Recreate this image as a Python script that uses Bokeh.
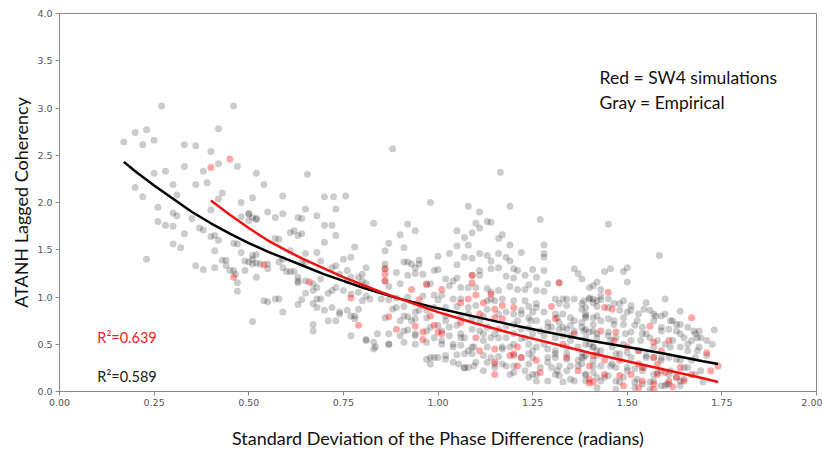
from bokeh.plotting import figure
from bokeh.models import Label, Range1d, FixedTicker, PrintfTickFormatter
from bokeh.embed import file_html
from bokeh.resources import INLINE

# ---------------- data ----------------
x_ticks = [0.0, 0.25, 0.5, 0.75, 1.0, 1.25, 1.5, 1.75, 2.0]
y_ticks = [0.0, 0.5, 1.0, 1.5, 2.0, 2.5, 3.0, 3.5, 4.0]

# Empirical (gray) points, grouped by region of the cloud
emp_left = [
    (0.27, 3.02), (0.46, 3.02), (0.42, 2.78), (0.20, 2.74), (0.23, 2.77), (0.17, 2.64),
    (0.22, 2.61), (0.25, 2.66), (0.33, 2.61), (0.36, 2.60), (0.40, 2.54), (0.42, 2.41),
    (0.47, 2.38), (0.38, 2.33), (0.33, 2.38), (0.25, 2.31), (0.28, 2.33), (0.52, 2.31),
    (0.39, 2.21), (0.36, 2.19), (0.30, 2.19), (0.54, 2.19), (0.20, 2.16), (0.22, 2.06),
    (0.31, 2.08), (0.43, 2.10), (0.42, 2.04), (0.48, 2.00), (0.51, 2.05), (0.59, 2.07),
    (0.26, 1.95), (0.30, 1.89), (0.31, 1.86), (0.35, 1.83), (0.40, 1.92), (0.48, 1.85),
    (0.50, 1.88), (0.51, 1.84), (0.52, 1.82), (0.26, 1.80), (0.28, 1.76), (0.30, 1.75),
    (0.33, 1.67), (0.37, 1.73), (0.38, 1.71), (0.40, 1.64), (0.41, 1.65), (0.57, 1.62),
    (0.62, 1.70), (0.63, 1.84), (0.23, 1.40), (0.30, 1.56), (0.32, 1.52), (0.36, 1.33),
    (0.38, 1.29), (0.41, 1.31), (0.43, 1.39), (0.44, 1.39), (0.44, 1.33), (0.45, 1.28),
    (0.46, 1.28), (0.47, 1.15), (0.47, 1.06), (0.48, 1.47), (0.46, 1.57), (0.49, 1.38),
    (0.51, 1.35), (0.52, 1.45), (0.51, 1.44), (0.52, 1.21), (0.55, 0.95), (0.57, 0.98),
    (0.51, 0.74), (0.42, 1.60), (0.41, 1.49), (0.47, 1.56), (0.465, 1.24),
]

emp_mid = [
    (0.49, 1.28), (0.50, 1.37), (0.51, 1.40), (0.52, 1.36), (0.53, 1.35), (0.55, 1.30),
    (0.55, 1.35), (0.58, 1.37), (0.59, 1.31), (0.60, 1.27), (0.61, 1.27), (0.62, 1.27),
    (0.63, 1.17), (0.63, 1.15), (0.65, 1.17), (0.67, 1.14), (0.68, 1.10), (0.69, 1.19),
    (0.67, 1.07), (0.65, 1.04), (0.68, 0.98), (0.69, 0.98), (0.71, 1.04), (0.72, 1.07),
    (0.73, 1.10), (0.75, 1.07), (0.77, 1.03), (0.79, 1.05), (0.81, 1.01), (0.82, 0.98),
    (0.54, 0.96), (0.58, 0.98), (0.59, 0.84), (0.64, 0.97), (0.63, 0.92), (0.67, 0.93),
    (0.68, 0.89), (0.70, 0.86), (0.72, 0.89), (0.74, 0.84), (0.76, 0.86), (0.78, 0.80),
    (0.78, 0.77), (0.79, 0.87), (0.80, 0.96), (0.67, 0.71), (0.67, 0.64), (0.71, 0.75),
    (0.73, 0.75), (0.77, 0.59), (0.81, 0.55), (0.83, 0.52), (0.83, 0.45), (0.84, 0.61),
    (0.83, 1.78), (0.50, 1.81), (0.50, 1.88), (0.52, 1.83), (0.55, 1.90), (0.57, 1.84),
    (0.59, 1.88), (0.61, 1.68), (0.63, 1.65), (0.64, 1.67), (0.65, 1.93), (0.68, 1.86),
    (0.70, 1.76), (0.72, 1.76), (0.73, 1.65), (0.70, 1.58), (0.68, 1.47), (0.69, 1.38),
    (0.72, 1.31), (0.73, 1.33), (0.75, 1.40), (0.76, 1.28), (0.77, 1.42), (0.78, 1.53),
    (0.80, 1.24), (0.81, 1.14), (0.80, 1.17), (0.79, 1.21), (0.58, 1.61), (0.59, 1.40),
    (0.61, 1.49), (0.65, 1.46), (0.65, 1.37), (0.63, 1.21), (0.64, 1.37), (0.74, 1.24),
    (0.76, 1.17), (0.77, 1.21), (0.81, 1.31), (0.73, 1.93), (0.64, 1.83),
    (0.88, 2.57), (0.655, 2.30), (1.165, 2.32), (0.70, 2.06), (0.724, 2.06), (0.756, 2.07),
    (0.74, 0.82), (0.77, 0.80), (0.81, 0.54), (0.835, 0.47), (0.87, 0.50),
]

emp_center = [
    (0.98, 2.00), (1.08, 1.96), (1.19, 1.96), (1.11, 1.90), (1.27, 1.82), (1.13, 1.80),
    (1.14, 1.79), (0.92, 1.77), (1.10, 1.78), (1.11, 1.73), (1.05, 1.70), (1.09, 1.68),
    (0.94, 1.70), (0.90, 1.66), (1.16, 1.62), (1.17, 1.66), (1.07, 1.63), (0.87, 1.57),
    (1.05, 1.54), (1.08, 1.55), (1.19, 1.55), (1.28, 1.55), (0.86, 1.49), (0.91, 1.52),
    (1.03, 1.46), (1.00, 1.43), (1.11, 1.46), (1.13, 1.44), (1.16, 1.46), (1.22, 1.47),
    (1.28, 1.46), (1.28, 1.42), (0.91, 1.37), (0.92, 1.37), (0.95, 1.39), (0.95, 1.35),
    (1.07, 1.42), (1.09, 1.41), (1.14, 1.38), (1.18, 1.42), (1.19, 1.38), (0.86, 1.35),
    (0.86, 1.30), (0.93, 1.35), (0.94, 1.31), (0.99, 1.28), (1.00, 1.29), (1.05, 1.34),
    (1.11, 1.28), (1.14, 1.30), (1.16, 1.31), (1.20, 1.30), (1.21, 1.28), (1.25, 1.29),
    (1.28, 1.28), (1.36, 1.30), (1.37, 1.25), (0.89, 1.26), (0.92, 1.23), (0.94, 1.25),
    (0.96, 1.24), (1.02, 1.19), (1.04, 1.17), (1.05, 1.20), (1.09, 1.23), (1.11, 1.23),
    (1.18, 1.22), (1.20, 1.20), (1.23, 1.23), (1.26, 1.21), (1.29, 1.14), (1.32, 1.15),
    (1.38, 1.19), (1.41, 1.12), (0.86, 1.17), (0.87, 1.11), (0.90, 1.14), (0.97, 1.14),
    (0.98, 1.14), (1.03, 1.12), (1.06, 1.10), (1.08, 1.10), (1.10, 1.10), (1.13, 1.09),
    (1.14, 1.05), (1.16, 1.07), (1.19, 1.11), (1.21, 1.08), (1.23, 1.08), (1.24, 1.13),
    (1.26, 1.07), (1.28, 1.06), (1.31, 0.98), (1.33, 0.98), (1.34, 0.98), (1.36, 0.98),
    (1.40, 0.99), (1.41, 0.98), (1.43, 1.01), (0.85, 0.98), (0.87, 0.97), (0.89, 0.99),
    (0.92, 1.00), (0.96, 1.01), (0.99, 1.02), (1.01, 1.02), (1.04, 0.98), (1.06, 0.98),
    (1.13, 0.96), (1.14, 0.98), (1.15, 0.96), (1.17, 0.98), (1.20, 0.96), (1.23, 0.96),
    (1.26, 0.93), (1.32, 0.93), (1.39, 0.89), (1.42, 0.90), (1.00, 0.97), (1.24, 0.90),
    (0.88, 0.87), (0.91, 0.90), (0.94, 0.84), (0.97, 0.86), (0.99, 0.89), (1.02, 0.89),
    (1.05, 0.90), (1.08, 0.89), (1.10, 0.91), (1.13, 0.87), (1.18, 0.84), (1.20, 0.82),
    (1.22, 0.82), (1.25, 0.84), (1.28, 0.84), (1.31, 0.82), (1.33, 0.82), (1.35, 0.78),
    (1.38, 0.87), (1.39, 0.80), (0.86, 0.78), (0.90, 0.75), (0.92, 0.79), (0.94, 0.77),
    (0.97, 0.78), (1.02, 0.80), (1.06, 0.80), (1.08, 0.82), (1.09, 0.77), (1.12, 0.80),
    (1.21, 0.75), (1.24, 0.78), (1.26, 0.75), (1.29, 0.73), (1.32, 0.73), (1.35, 0.70),
    (1.38, 0.73), (1.41, 0.71), (0.92, 0.65), (0.98, 0.68), (1.01, 0.64), (1.03, 0.68),
    (1.05, 0.70), (1.09, 0.66), (1.11, 0.64), (1.13, 0.68), (1.16, 0.66), (1.18, 0.69),
    (1.22, 0.66), (1.24, 0.67), (1.27, 0.64), (1.30, 0.68), (1.32, 0.66), (1.34, 0.66),
    (1.36, 0.64), (1.39, 0.66), (1.41, 0.64), (0.87, 0.61), (0.90, 0.59), (0.94, 0.61),
    (0.99, 0.57), (1.03, 0.59), (1.06, 0.61), (1.07, 0.57), (1.12, 0.61), (1.14, 0.57),
    (1.16, 0.57), (1.18, 0.57), (1.20, 0.61), (1.22, 0.56), (1.25, 0.61), (1.28, 0.59),
    (1.31, 0.57), (1.33, 0.59), (1.35, 0.59), (1.39, 0.57), (1.42, 0.57), (0.87, 0.50),
    (0.91, 0.52), (0.94, 0.50), (0.97, 0.52), (1.01, 0.50), (1.04, 0.47), (1.06, 0.49),
    (1.09, 0.47), (1.13, 0.47), (1.17, 0.45), (1.19, 0.47), (1.24, 0.50), (1.26, 0.47),
    (1.29, 0.45), (1.31, 0.43), (1.34, 0.47), (1.37, 0.47), (1.38, 0.41), (1.41, 0.47),
    (0.98, 0.36), (0.99, 0.36), (1.02, 0.34), (1.05, 0.39), (1.07, 0.40), (1.09, 0.40),
    (1.12, 0.38), (1.14, 0.36), (1.16, 0.37), (1.20, 0.38), (1.22, 0.36), (1.24, 0.40),
    (1.25, 0.36), (1.29, 0.36), (1.31, 0.36), (1.34, 0.34), (1.37, 0.33), (1.39, 0.38),
    (1.42, 0.38), (0.98, 0.29), (1.055, 0.29), (1.08, 0.255), (1.10, 0.31), (1.13, 0.31),
    (1.15, 0.29), (1.17, 0.29), (1.20, 0.27), (1.24, 0.29), (1.27, 0.255), (1.29, 0.31),
    (1.30, 0.255), (1.32, 0.27), (1.35, 0.27), (1.38, 0.29), (1.07, 0.25), (1.19, 0.18),
    (1.23, 0.22), (1.25, 0.18), (1.31, 0.18), (1.32, 0.17), (1.34, 0.22), (1.39, 0.18),
    (1.41, 0.20), (1.26, 0.11), (1.33, 0.10), (1.36, 0.11), (1.43, 0.11),
]

emp_center_dense = [
    (0.89, 0.89), (0.91, 0.80), (0.93, 0.75), (0.95, 0.86), (0.97, 0.64), (1.00, 0.70),
    (1.02, 0.75), (1.04, 0.50), (1.06, 0.57), (1.08, 0.43), (1.095, 0.47), (1.12, 0.54),
    (1.15, 0.61), (1.17, 0.47), (1.20, 0.50), (1.23, 0.57), (1.25, 0.43), (1.28, 0.50),
    (1.31, 0.40), (0.97, 0.34), (1.00, 0.36), (1.02, 0.38), (1.04, 0.31), (1.07, 0.255),
    (1.095, 0.27), (1.12, 0.22), (1.15, 0.255), (1.18, 0.27), (1.20, 0.20), (1.24, 0.15),
    (1.26, 0.18), (1.29, 0.11), (1.315, 0.22), (1.11, 0.75), (1.16, 0.82), (1.20, 0.71),
    (1.245, 0.75), (1.29, 0.68), (1.315, 0.78), (1.26, 0.89), (1.22, 0.86), (1.01, 0.54),
    (0.94, 0.59), (0.91, 0.64),
]

emp_right = [
    (1.45, 1.77), (1.585, 1.44), (1.44, 1.27), (1.456, 1.30), (1.49, 1.27), (1.50, 1.31),
    (1.42, 1.16), (1.50, 1.16), (1.40, 1.10), (1.43, 1.08), (1.60, 0.98), (1.55, 0.94),
    (1.64, 0.85), (1.73, 0.65), (1.725, 0.50), (1.685, 0.57), (1.70, 0.10),
    (1.385, 0.96), (1.40, 0.98), (1.42, 0.96), (1.43, 0.97), (1.45, 0.98), (1.465, 0.93),
    (1.49, 0.96), (1.51, 0.91), (1.48, 0.86), (1.50, 0.84), (1.53, 0.82), (1.56, 0.86),
    (1.575, 0.80), (1.60, 0.82), (1.62, 0.75), (1.64, 0.71), (1.66, 0.68), (1.68, 0.61),
    (1.69, 0.64), (1.71, 0.54), (1.39, 0.82), (1.41, 0.78), (1.42, 0.80), (1.45, 0.77),
    (1.465, 0.75), (1.49, 0.71), (1.52, 0.70), (1.54, 0.68), (1.57, 0.75), (1.59, 0.68),
    (1.61, 0.66), (1.63, 0.64), (1.65, 0.57), (1.67, 0.54), (1.69, 0.47), (1.38, 0.68),
    (1.40, 0.63), (1.42, 0.61), (1.45, 0.59), (1.47, 0.57), (1.495, 0.61), (1.51, 0.54),
    (1.54, 0.61), (1.56, 0.57), (1.58, 0.54), (1.60, 0.50), (1.62, 0.54), (1.64, 0.47),
    (1.66, 0.43), (1.68, 0.36), (1.39, 0.50), (1.41, 0.47), (1.43, 0.43), (1.46, 0.47),
    (1.48, 0.40), (1.50, 0.41), (1.53, 0.43), (1.55, 0.36), (1.57, 0.36), (1.59, 0.33),
    (1.61, 0.36), (1.64, 0.33), (1.66, 0.255), (1.68, 0.18), (1.385, 0.36), (1.41, 0.33),
    (1.43, 0.27), (1.46, 0.29), (1.47, 0.255), (1.50, 0.255), (1.52, 0.24), (1.54, 0.22),
    (1.57, 0.18), (1.59, 0.22), (1.61, 0.18), (1.63, 0.15), (1.65, 0.13), (1.39, 0.18),
    (1.42, 0.15), (1.45, 0.17), (1.47, 0.11), (1.49, 0.15), (1.52, 0.10), (1.54, 0.08),
    (1.56, 0.10), (1.59, 0.06), (1.61, 0.08), (1.64, 0.06),
]

emp_right_dense = [
    (1.34, 0.91), (1.38, 0.93), (1.41, 0.94), (1.45, 0.89), (1.48, 0.93), (1.51, 0.86),
    (1.544, 0.87), (1.57, 0.82), (1.59, 0.80), (1.614, 0.75), (1.63, 0.71), (1.49, 0.78),
    (1.526, 0.75), (1.465, 0.71), (1.43, 0.75), (1.39, 0.78), (1.36, 0.75), (1.33, 0.68),
    (1.385, 0.64), (1.45, 0.63), (1.51, 0.63), (1.55, 0.61), (1.59, 0.64), (1.64, 0.61),
    (1.676, 0.64), (1.694, 0.57), (1.35, 0.54), (1.40, 0.50), (1.456, 0.54), (1.49, 0.50),
    (1.535, 0.54), (1.57, 0.47), (1.614, 0.47), (1.66, 0.50), (1.685, 0.43), (1.71, 0.38),
    (1.34, 0.40), (1.38, 0.36), (1.42, 0.43), (1.47, 0.40), (1.51, 0.36), (1.55, 0.38),
    (1.59, 0.36), (1.63, 0.34), (1.67, 0.33), (1.37, 0.27), (1.41, 0.27), (1.456, 0.27),
    (1.50, 0.22), (1.544, 0.255), (1.58, 0.20), (1.614, 0.22), (1.65, 0.255), (1.694, 0.22),
    (1.35, 0.13), (1.39, 0.11), (1.44, 0.15), (1.48, 0.10), (1.526, 0.13), (1.57, 0.11),
    (1.605, 0.08), (1.64, 0.11), (1.42, 0.04), (1.47, 0.025), (1.52, 0.04), (1.56, 0.025),
    (1.60, 0.06),
]

# SW4 simulation (red) points
sim_points = [
    (0.45, 2.46), (0.40, 2.37), (0.46, 1.21), (0.54, 1.34), (0.66, 1.16), (0.77, 0.99),
    (0.79, 0.70), (0.87, 0.79), (0.89, 0.66), (0.86, 1.17), (0.86, 1.30), (0.86, 1.24),
    (1.14, 1.03), (1.09, 1.23), (1.01, 1.08), (1.09, 1.15), (0.97, 1.13), (0.93, 1.08),
    (1.10, 1.02), (1.30, 0.90), (0.95, 0.97), (1.06, 0.94), (1.08, 0.98), (1.12, 0.94),
    (1.15, 0.87), (1.20, 0.89), (0.98, 0.80), (1.15, 0.78), (1.17, 0.77), (1.31, 0.77),
    (0.94, 0.69), (0.99, 0.70), (0.96, 0.63), (0.96, 0.55), (1.01, 0.61), (1.10, 0.57),
    (1.11, 0.43), (1.15, 0.45), (1.21, 0.47), (1.19, 0.38), (1.21, 0.27), (1.40, 0.27),
    (1.15, 0.18), (1.37, 0.22), (1.40, 0.09), (1.32, 1.15), (1.45, 1.05), (1.46, 0.87),
    (1.44, 0.89), (1.43, 0.64), (1.465, 0.54), (1.56, 0.69), (1.57, 0.36), (1.51, 0.18),
    (1.44, 0.18), (1.41, 0.10), (1.54, 0.11), (1.58, 0.18), (1.61, 0.11), (1.64, 0.255),
    (1.67, 0.18), (1.48, 0.33), (1.50, 0.47), (1.59, 0.43), (1.61, 0.54), (1.54, 0.255),
    (1.67, 0.78), (1.71, 0.41), (1.72, 0.22), (1.74, 0.27), (1.53, 0.04), (1.57, 0.02),
    (1.62, 0.05), (1.49, 0.06), (1.47, 0.63), (1.36, 0.61), (1.33, 0.50), (1.41, 0.38),
    (1.44, 0.33), (1.53, 0.29), (1.48, 0.17), (1.57, 0.08), (1.60, 0.20), (1.63, 0.15),
    (1.65, 0.11), (1.40, 0.13), (1.58, 0.29), (1.34, 0.36), (1.53, 0.43), (1.57, 0.52),
    (1.00, 0.63), (1.15, 0.31), (1.20, 0.40), (1.17, 0.91), (1.26, 0.33), (1.27, 0.20),
    (1.22, 0.36), (1.11, 0.82), (1.06, 0.73),
]

# Fitted curves
emp_fit_x = [0.17, 0.20, 0.25, 0.30, 0.35, 0.40, 0.45, 0.50, 0.55, 0.60, 0.65, 0.70, 0.75,
             0.80, 0.85, 0.90, 0.95, 1.00, 1.10, 1.20, 1.30, 1.40, 1.50, 1.60, 1.70, 1.74]
emp_fit_y = [2.43, 2.33, 2.18, 2.04, 1.90, 1.78, 1.67, 1.57, 1.48, 1.40, 1.32, 1.24, 1.17,
             1.10, 1.04, 0.98, 0.93, 0.88, 0.79, 0.70, 0.62, 0.54, 0.47, 0.40, 0.32, 0.29]
sim_fit_x = [0.40, 0.45, 0.50, 0.55, 0.60, 0.65, 0.70, 0.75, 0.80, 0.85, 0.90, 0.95, 1.00,
             1.05, 1.10, 1.20, 1.30, 1.40, 1.50, 1.60, 1.70, 1.74]
sim_fit_y = [2.02, 1.87, 1.73, 1.60, 1.49, 1.39, 1.30, 1.21, 1.13, 1.05, 0.98, 0.91, 0.84,
             0.78, 0.72, 0.61, 0.51, 0.41, 0.32, 0.23, 0.14, 0.10]

r2_sim = "R²=0.639"
r2_emp = "R²=0.589"

# ---------------- figure ----------------
p = figure(width=822, height=451, output_backend="svg", toolbar_location=None,
           x_range=Range1d(0, 2), y_range=Range1d(0, 4),
           min_border_left=59, min_border_right=6, min_border_top=13, min_border_bottom=60,
           background_fill_color="white", border_fill_color="white")

p.xgrid.visible = False
p.ygrid.visible = False
p.outline_line_color = "#8a8a8a"
p.outline_line_width = 1

for ax in (p.xaxis[0], p.yaxis[0]):
    ax.axis_line_color = "#8a8a8a"
    ax.major_tick_line_color = "#8a8a8a"
    ax.minor_tick_line_color = None
    ax.major_tick_in = 0
    ax.major_tick_out = 4
    ax.major_label_text_font = "DejaVu Sans"
    ax.major_label_text_font_size = "9.5px"
    ax.major_label_text_color = "#555555"
    ax.major_label_standoff = 3
    ax.axis_label_text_font = "Lato"
    ax.axis_label_text_font_size = "18px"
    ax.axis_label_text_font_style = "normal"
    ax.axis_label_text_color = "#111111"

p.xaxis.ticker = FixedTicker(ticks=x_ticks)
p.yaxis.ticker = FixedTicker(ticks=y_ticks)
p.xaxis.formatter = PrintfTickFormatter(format="%.2f")
p.yaxis.formatter = PrintfTickFormatter(format="%.1f")
p.xaxis.axis_label = "Standard Deviation of the Phase Difference (radians)"
p.yaxis.axis_label = "ATANH Lagged Coherency"
p.xaxis.axis_label_standoff = 18
p.yaxis.axis_label_standoff = 2

emp_all = emp_left + emp_mid + emp_center + emp_center_dense + emp_right + emp_right_dense
p.scatter([q[0] for q in emp_all], [q[1] for q in emp_all], size=7,
          fill_color="black", fill_alpha=0.2, line_color=None)
p.scatter([q[0] for q in sim_points], [q[1] for q in sim_points], size=7,
          fill_color="red", fill_alpha=0.35, line_color=None)

p.line(emp_fit_x, emp_fit_y, line_color="black", line_width=2.5)
p.line(sim_fit_x, sim_fit_y, line_color="#ee1111", line_width=2.5)

p.add_layout(Label(x=1.427, y=3.32, text="Red = SW4 simulations", text_font="Lato",
                   text_font_size="17.5px", text_color="#111111", text_baseline="middle"))
p.add_layout(Label(x=1.427, y=3.06, text="Gray = Empirical", text_font="Lato",
                   text_font_size="17.5px", text_color="#111111", text_baseline="middle"))
p.add_layout(Label(x=0.10, y=0.57, text=r2_sim, text_font="Lato",
                   text_font_size="14.5px", text_color="#ee2222", text_baseline="middle"))
p.add_layout(Label(x=0.10, y=0.155, text=r2_emp, text_font="Lato",
                   text_font_size="14.5px", text_color="#222222", text_baseline="middle"))

open("out.html", "w").write(file_html(p, INLINE))
